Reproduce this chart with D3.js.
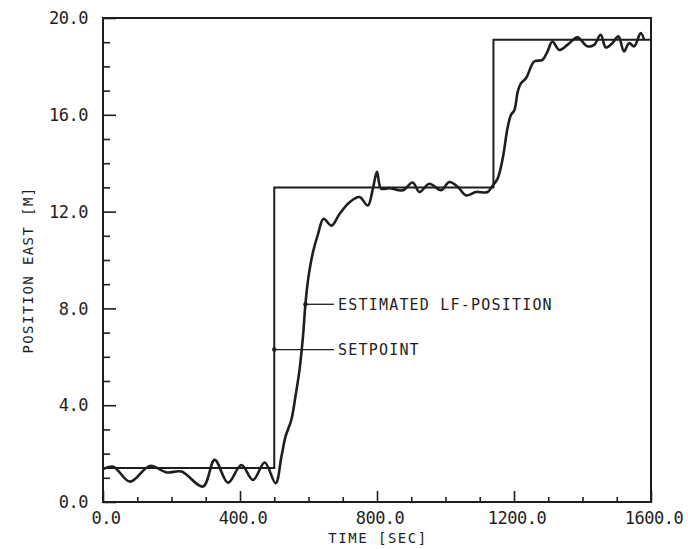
<!DOCTYPE html>
<html>
<head>
<meta charset="utf-8">
<script src="https://cdn.jsdelivr.net/npm/d3@7"></script>
<style>
  html, body { margin: 0; padding: 0; background: #ffffff; }
  svg text { font-family: "DejaVu Sans Mono", "Liberation Mono", monospace; fill: #1e1e1e; }
</style>
</head>
<body>
<svg id="chart" width="688" height="549"></svg>
<script>
// Time axis samples (s) of the estimated low-frequency position
const timeSec = [0, 30, 79, 137, 186, 229, 292, 326, 365, 404, 438, 472, 504, 521, 533, 550, 562, 574, 584, 591,
  599, 613, 628, 644, 667, 691, 720, 749, 773, 788, 800, 812, 836, 875, 904, 924, 953, 987, 1011, 1036,
  1060, 1089, 1123, 1138, 1152, 1167, 1181, 1191, 1201, 1211, 1220, 1235, 1259, 1283, 1298, 1312, 1332,
  1356, 1385, 1414, 1434, 1453, 1468, 1487, 1505, 1521, 1536, 1551, 1570, 1580];
// Estimated LF position east (m)
const estimatedEast = [1.36, 1.46, 0.84, 1.49, 1.22, 1.26, 0.64, 1.74, 0.80, 1.53, 0.91, 1.63, 0.78, 1.88, 2.71,
  3.40, 4.37, 5.48, 6.86, 8.17, 9.21, 10.32, 11.08, 11.70, 11.42, 11.91, 12.39, 12.60, 12.25, 12.95,
  13.64, 12.95, 12.97, 12.88, 13.20, 12.81, 13.15, 12.88, 13.22, 13.02, 12.67, 12.81, 12.81, 13.08,
  13.36, 14.19, 15.44, 15.99, 16.19, 16.96, 17.30, 17.51, 18.20, 18.27, 18.62, 19.03, 18.68, 18.89,
  19.20, 18.83, 18.89, 19.31, 18.78, 18.96, 19.24, 18.62, 18.96, 18.83, 19.38, 19.10];
// Setpoint step changes: switch times (s) and held levels (m)
const setpointTimes = [0, 500, 1140, 1600];
const setpointLevels = [1.4, 13.0, 19.1];
// Axis ticks
const xMajorTicks = [0, 400, 800, 1200, 1600];
const yMajorTicks = [0, 4, 8, 12, 16, 20];
const legendLabels = ["ESTIMATED LF-POSITION", "SETPOINT"];

const svg = d3.select("#chart");
const ink = "#1e1e1e";

const x = d3.scaleLinear().domain([0, 1600]).range([103, 651]);
const y = d3.scaleLinear().domain([0, 20]).range([502, 18]);

// Frame
svg.append("rect")
  .attr("x", x(0)).attr("y", y(20))
  .attr("width", x(1600) - x(0)).attr("height", y(0) - y(20))
  .attr("fill", "none").attr("stroke", ink).attr("stroke-width", 2);

// Y axis: ticks pointing inward, minor every 1 m
const yAxis = d3.axisRight(y)
  .tickValues(d3.range(0, 20.01, 1))
  .tickSize(0).tickFormat("");
const yg = svg.append("g").attr("transform", `translate(${x(0)},0)`).call(yAxis);
yg.select(".domain").remove();
yg.selectAll(".tick line")
  .attr("x2", d => (d % 4 === 0 ? 13 : 7))
  .attr("stroke", ink).attr("stroke-width", 1.6);

yMajorTicks.forEach(v => {
  svg.append("text")
    .attr("x", 88).attr("y", y(v)).attr("dy", "0.36em")
    .attr("text-anchor", "end")
    .attr("font-size", 17).attr("letter-spacing", -0.5)
    .text(v.toFixed(1));
});

// X axis: ticks pointing inward, minor every 100 s
const xAxis = d3.axisTop(x)
  .tickValues(d3.range(0, 1600.1, 100))
  .tickSize(0).tickFormat("");
const xg = svg.append("g").attr("transform", `translate(0,${y(0)})`).call(xAxis);
xg.select(".domain").remove();
xg.selectAll(".tick line")
  .attr("y2", d => (d % 400 === 0 ? -11 : -5))
  .attr("stroke", ink).attr("stroke-width", 1.6);

xMajorTicks.forEach(t => {
  svg.append("text")
    .attr("x", x(t) + 3).attr("y", 524)
    .attr("text-anchor", "middle")
    .attr("font-size", 17).attr("letter-spacing", -0.5)
    .text(t.toFixed(1));
});

// Axis titles
svg.append("text")
  .attr("x", 378).attr("y", 543)
  .attr("text-anchor", "middle")
  .attr("font-size", 14).attr("letter-spacing", 1.5)
  .text("TIME [SEC]");

svg.append("text")
  .attr("transform", `translate(33,270) rotate(-90)`)
  .attr("text-anchor", "middle")
  .attr("font-size", 14).attr("letter-spacing", 1.4)
  .text("POSITION EAST [M]");

// Setpoint as a step line
const setpointData = setpointLevels.map((v, i) => ({ t: setpointTimes[i], v }))
  .concat([{ t: setpointTimes[setpointTimes.length - 1], v: setpointLevels[setpointLevels.length - 1] }]);
svg.append("path")
  .datum(setpointData)
  .attr("fill", "none").attr("stroke", ink).attr("stroke-width", 2)
  .attr("d", d3.line().x(d => x(d.t)).y(d => y(d.v)).curve(d3.curveStepAfter));

// Estimated LF position curve
const estData = timeSec.map((t, i) => ({ t, v: estimatedEast[i] }));
svg.append("path")
  .datum(estData)
  .attr("fill", "none").attr("stroke", ink).attr("stroke-width", 2.6)
  .attr("stroke-linejoin", "round")
  .attr("d", d3.line().x(d => x(d.t)).y(d => y(d.v)).curve(d3.curveCatmullRom.alpha(0.5)));

// Leader labels
const estAnchor = { t: 591, v: 8.17 };
const spAnchor = { t: 500, v: 6.3 };
const leaders = [
  { ax: x(estAnchor.t), ay: y(estAnchor.v), label: legendLabels[0] },
  { ax: x(spAnchor.t), ay: y(spAnchor.v), label: legendLabels[1] }
];
leaders.forEach(l => {
  svg.append("line")
    .attr("x1", l.ax).attr("y1", l.ay).attr("x2", 334).attr("y2", l.ay)
    .attr("stroke", ink).attr("stroke-width", 1.3);
  svg.append("circle")
    .attr("cx", l.ax).attr("cy", l.ay).attr("r", 2.2).attr("fill", ink);
  svg.append("text")
    .attr("x", 338).attr("y", l.ay).attr("dy", "0.36em")
    .attr("font-size", 15).attr("letter-spacing", 1.2)
    .text(l.label);
});
</script>
</body>
</html>
